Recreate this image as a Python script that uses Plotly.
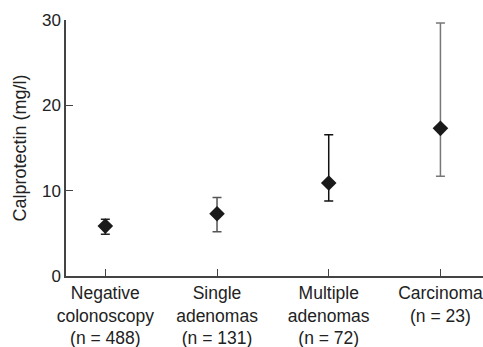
import plotly.graph_objects as go

categories = ["Negative<br>colonoscopy<br>(n = 488)", "Single<br>adenomas<br>(n = 131)",
              "Multiple<br>adenomas<br>(n = 72)", "Carcinoma<br>(n = 23)"]
means = [5.85, 7.3, 10.9, 17.3]
lower = [4.9, 5.2, 8.8, 11.7]
upper = [6.65, 9.2, 16.55, 29.65]
bar_colors = ["#222222", "#555555", "#111111", "#777777"]
yticks = [0, 10, 20, 30]

fig = go.Figure()
for i, cat in enumerate(categories):
    fig.add_trace(go.Scatter(
        x=[i], y=[means[i]], mode="markers",
        marker=dict(symbol="diamond", size=12, color="#1a1a1a"),
        error_y=dict(type="data", symmetric=False,
                     array=[upper[i] - means[i]], arrayminus=[means[i] - lower[i]],
                     color=bar_colors[i], thickness=1.5, width=4.5),
        showlegend=False, cliponaxis=False))

font_family = "Liberation Sans, Arial, sans-serif"
fig.update_layout(
    width=483, height=347,
    margin=dict(l=66, r=0, t=20, b=71, autoexpand=False),
    plot_bgcolor="white", paper_bgcolor="white",
    font=dict(family=font_family, size=17.5, color="#222222"),
    xaxis=dict(range=[-0.352, 3.381], tickvals=list(range(len(categories))), ticktext=categories,
               showgrid=False, zeroline=False, showline=True, linecolor="#444444", linewidth=1.5,
               ticks="inside", ticklen=7, tickcolor="#444444", tickwidth=1.2, automargin=False,
               ticklabeloverflow="allow",
               tickfont=dict(size=17.5, color="#222222")),
    yaxis=dict(range=[0, 30], tickvals=yticks, showgrid=False, zeroline=False,
               showline=True, linecolor="#444444", linewidth=1.5,
               ticks="inside", ticklen=7, tickcolor="#444444", tickwidth=1.2, automargin=False,
               tickfont=dict(size=17, color="#222222"),
               title=dict(text="Calprotectin (mg/l)", font=dict(size=18, color="#222222"), standoff=11)),
)
fig.write_html("out.html", config={"displayModeBar": False},
               post_script="document.body.style.margin='0';document.body.style.overflow='hidden';")
